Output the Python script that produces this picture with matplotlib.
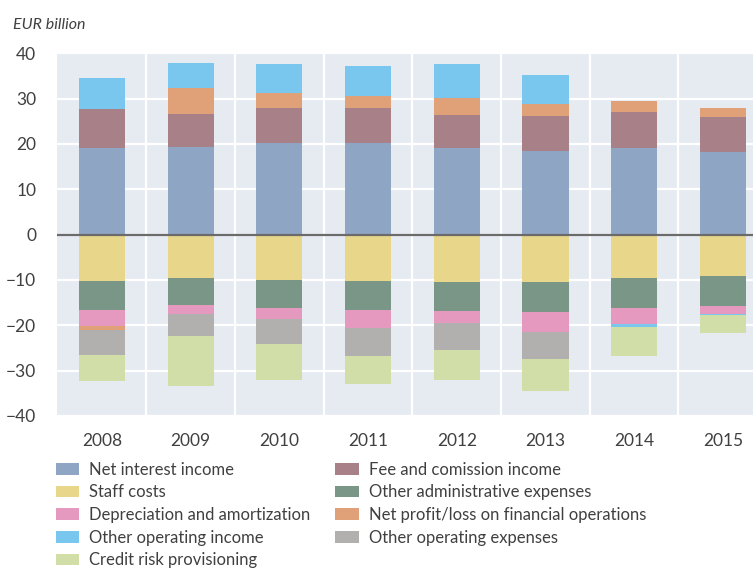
import numpy as np
import matplotlib
matplotlib.use("Agg")
from matplotlib import pyplot as plt

plt.rcParams['font.family'] = ['Lato', 'DejaVu Sans']

years = ["2008", "2009", "2010", "2011", "2012", "2013", "2014", "2015"]

# EUR billion, signed
net_interest = [19.1, 19.3, 20.1, 20.2, 19.1, 18.4, 19.1, 18.2]
fee_commission = [8.6, 7.3, 7.8, 7.7, 7.2, 7.7, 7.9, 7.7]
staff_costs = [-10.3, -9.6, -10.1, -10.3, -10.5, -10.5, -9.6, -9.2]
other_admin = [-6.4, -6.0, -6.1, -6.4, -6.4, -6.6, -6.6, -6.6]
depreciation = [-3.5, -2.0, -2.5, -3.9, -2.6, -4.4, -3.5, -1.8]
net_profit_fin = [-0.9, 5.8, 3.3, 2.6, 3.9, 2.8, 2.4, 2.1]
other_op_income = [6.8, 5.4, 6.4, 6.6, 7.4, 6.3, -0.7, -0.25]
other_op_expenses = [-5.5, -4.8, -5.5, -6.2, -6.0, -6.0, 0.0, 0.0]
credit_risk = [-5.7, -11.0, -7.8, -6.1, -6.5, -7.0, -6.4, -3.95]

series = [
    ("Net interest income", net_interest, "#8fa5c4"),
    ("Fee and comission income", fee_commission, "#a88087"),
    ("Staff costs", staff_costs, "#e8d68b"),
    ("Other administrative expenses", other_admin, "#7a9686"),
    ("Depreciation and amortization", depreciation, "#e699bf"),
    ("Net profit/loss on financial operations", net_profit_fin, "#e0a078"),
    ("Other operating income", other_op_income, "#79c6ee"),
    ("Other operating expenses", other_op_expenses, "#b2b0ae"),
    ("Credit risk provisioning", credit_risk, "#d1dea8"),
]


def main():
    fig = plt.figure(figsize=(7.53, 5.72), dpi=100)
    ax = fig.add_axes([0.0757, 0.273, 0.9243, 0.634])
    ax.set_facecolor("#e6ebf2")

    x = np.arange(len(years))
    pos_bottom = np.zeros(len(years))
    neg_bottom = np.zeros(len(years))
    handles = {}
    for name, vals, color in series:
        v = np.array(vals)
        pos = np.where(v > 0, v, 0)
        neg = np.where(v < 0, v, 0)
        b = ax.bar(x, pos, 0.52, bottom=pos_bottom, color=color, zorder=2)
        ax.bar(x, neg, 0.52, bottom=neg_bottom, color=color, zorder=2)
        pos_bottom += pos
        neg_bottom += neg
        handles[name] = b

    ax.axhline(0, color="#6b6b6b", lw=1.6, zorder=3)

    ax.set_ylim(-40, 40)
    ax.set_yticks(range(-40, 41, 10))
    ax.set_xlim(-0.507, 7.34)
    ax.set_xticks(x)
    ax.set_xticklabels(years)
    ax.set_xticks(np.arange(0.5, 7, 1), minor=True)
    ax.grid(True, axis="y", which="major", color="white", lw=1.6, zorder=1)
    ax.grid(True, axis="x", which="minor", color="white", lw=1.6, zorder=1)
    ax.grid(False, axis="x", which="major")
    ax.tick_params(which="both", length=0, labelsize=12.5, colors="#404040")
    ax.tick_params(axis="x", pad=12)
    ax.tick_params(axis="y", pad=15)
    for s in ax.spines.values():
        s.set_visible(False)

    fig.text(0.017, 0.957, "EUR billion", fontsize=11.5, style="italic",
             color="#404040", va="center")

    order = ["Net interest income", "Staff costs", "Depreciation and amortization",
             "Other operating income", "Credit risk provisioning",
             "Fee and comission income", "Other administrative expenses",
             "Net profit/loss on financial operations", "Other operating expenses"]
    leg = fig.legend([handles[n] for n in order], order, ncol=2,
                     loc="upper left", bbox_to_anchor=(0.074, 0.193), frameon=False,
                     fontsize=12, handlelength=1.4, handleheight=0.7,
                     handletextpad=0.6, columnspacing=1.5, labelspacing=0.4,
                     borderaxespad=0, borderpad=0)
    for t in leg.get_texts():
        t.set_color("#404040")

    fig.savefig("out.png", dpi=100)


if __name__ == '__main__':
    main()
